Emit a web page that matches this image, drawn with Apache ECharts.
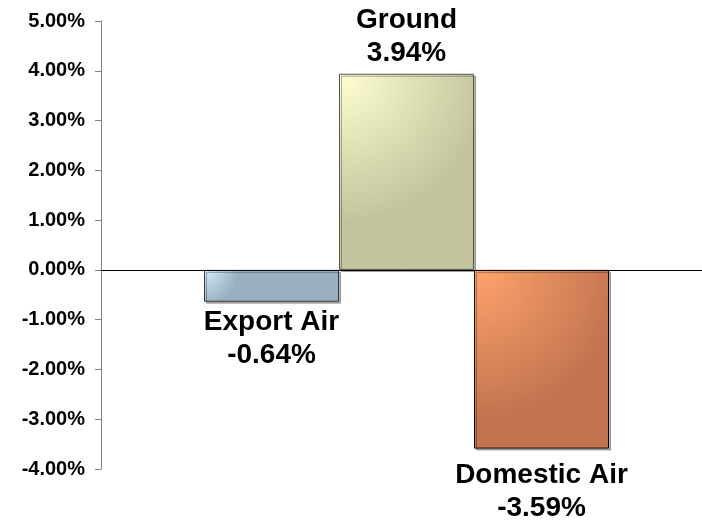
<!DOCTYPE html>
<html lang="en">
<head>
    <meta charset="UTF-8">
    <title>Bar chart</title>
    <script src="https://cdn.jsdelivr.net/npm/echarts@6/dist/echarts.min.js"></script>
    <style>
        html, body { margin: 0; padding: 0; background: #fff; }
        #main { width: 702px; height: 522px; }
    </style>
</head>
<body>
<div id="main"></div>
<script type="text/javascript">
    // data
    var names = ['Export Air', 'Ground', 'Domestic Air'];
    var values = [-0.64, 3.94, -3.59];
    var yTicks = [-4, -3, -2, -1, 0, 1, 2, 3, 4, 5];

    // colours: light corner / dark edge
    var lightCol = ['#d2eefc', '#ffffd2', '#ffa36c'];
    var darkCol = ['#98b0c2', '#c3c39d', '#c27450'];
    var borderCol = ['#3a3a3a', '#555550', '#1a0800'];
    var labelGap = [4, 4, 10];

    var myChart = echarts.init(document.getElementById('main'));

    var series = names.map(function (name, i) {
        return {
            name: name,
            type: 'bar',
            data: [values[i]],
            barWidth: 135,
            barGap: '0%',
            itemStyle: {
                color: new echarts.graphic.RadialGradient(0, 0, 1.1, [
                    { offset: 0, color: lightCol[i] },
                    { offset: 1, color: darkCol[i] }
                ]),
                borderColor: borderCol[i],
                borderWidth: 1,
                shadowColor: 'rgba(0,0,0,0.3)',
                shadowOffsetX: 2,
                shadowOffsetY: 2
            },
            label: {
                show: true,
                position: values[i] >= 0 ? 'top' : 'bottom',
                distance: labelGap[i],
                formatter: name + '\n' + values[i].toFixed(2) + '%',
                fontFamily: 'Liberation Sans, Arial',
                fontWeight: 'bold',
                fontSize: 28,
                lineHeight: 33,
                color: '#000'
            }
        };
    });

    var option = {
        animation: false,
        grid: { left: 101, top: 21, width: 611, height: 448, outerBoundsMode: 'none', containLabel: false },
        xAxis: {
            type: 'category',
            data: [''],
            axisLine: { onZero: true, lineStyle: { color: '#000', width: 1 } },
            axisTick: { show: false },
            axisLabel: { show: false },
            z: 10
        },
        yAxis: {
            type: 'value',
            min: yTicks[0],
            max: yTicks[yTicks.length - 1],
            interval: 1,
            splitLine: { show: false },
            axisLine: { show: true, lineStyle: { color: '#808080', width: 1 } },
            axisTick: { show: true, inside: false, length: 6, lineStyle: { color: '#808080' } },
            axisLabel: {
                margin: 16,
                fontFamily: 'Liberation Sans, Arial',
                fontWeight: 'bold',
                fontSize: 20,
                color: '#000',
                formatter: function (v) { return v.toFixed(2) + '%'; }
            }
        },
        series: series
    };

    myChart.setOption(option);
</script>
</body>
</html>
